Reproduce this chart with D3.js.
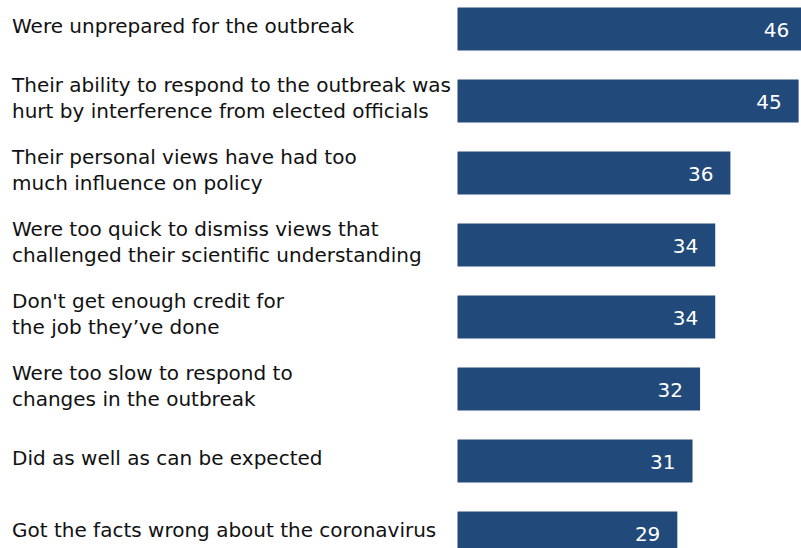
<!DOCTYPE html>
<html>
<head>
<meta charset="utf-8">
<script src="https://cdn.jsdelivr.net/npm/d3@7"></script>
<style>
  html, body { margin: 0; padding: 0; background: #ffffff; }
  svg { display: block; }
  text { font-family: "DejaVu Sans", Verdana, sans-serif; }
</style>
</head>
<body>
<svg id="chart" width="801" height="548"></svg>
<script>
const categories = [
  ["Were unprepared for the outbreak"],
  ["Their ability to respond to the outbreak was", "hurt by interference from elected officials"],
  ["Their personal views have had too", "much influence on policy"],
  ["Were too quick to dismiss views that", "challenged their scientific understanding"],
  ["Don't get enough credit for", "the job they\u2019ve done"],
  ["Were too slow to respond to", "changes in the outbreak"],
  ["Did as well as can be expected"],
  ["Got the facts wrong about the coronavirus"]
];
const values = [46, 45, 36, 34, 34, 32, 31, 29];

const W = 801, H = 548;
const svg = d3.select("#chart");

const x = d3.scaleLinear().domain([0, 46]).range([457.5, 806.2]);
const y = d3.scaleBand()
  .domain(d3.range(categories.length))
  .range([7.5, 554.5])
  .paddingInner(29 / 72)
  .paddingOuter(0);

const rows = svg.selectAll("g.row")
  .data(values.map((v, i) => ({ v, i, label: categories[i] })))
  .join("g")
  .attr("class", "row");

rows.append("rect")
  .attr("x", x(0))
  .attr("y", d => y(d.i))
  .attr("width", d => x(d.v) - x(0))
  .attr("height", y.bandwidth())
  .attr("fill", "#214a7b");

rows.append("text")
  .attr("x", d => x(d.v) - 17)
  .attr("y", d => y(d.i) + y.bandwidth() / 2 + 8)
  .attr("text-anchor", "end")
  .attr("fill", "#ffffff")
  .attr("font-size", 20)
  .text(d => d.v);

const lineH = 25.5;
rows.append("text")
  .attr("fill", "#111111")
  .attr("font-size", 20)
  .each(function(d) {
    const t = d3.select(this);
    const n = d.label.length;
    const cy = y(d.i) + y.bandwidth() / 2;
    d.label.forEach((ln, k) => {
      t.append("tspan")
        .attr("x", 12)
        .attr("y", cy + (k - (n - 1) / 2) * lineH + 4)
        .text(ln);
    });
  });
</script>
</body>
</html>
